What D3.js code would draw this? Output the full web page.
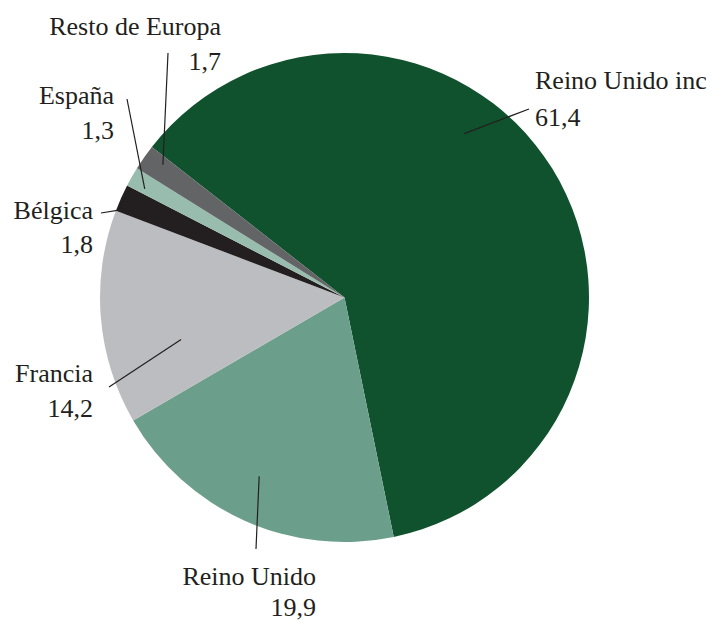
<!DOCTYPE html>
<meta charset="utf-8" />
<html lang="es">
  <head>
    <script src="https://d3js.org/d3.v7.min.js"></script>
    <style>
      body {
        margin: 0;
        background: #fff;
      }
      svg text {
        font-family: "Liberation Serif", "Times New Roman", serif;
        font-size: 26px;
        fill: #231f20;
      }
      .leaders line {
        stroke: #231f20;
        stroke-width: 1.2px;
      }
    </style>
  </head>
  <body>
    <svg width="713" height="622"></svg>
    <script>
      // data, clockwise from the top-left
      var categories = ["Reino Unido inc", "Reino Unido", "Francia", "Bélgica", "España", "Resto de Europa"];
      var values = [61.4, 19.9, 14.2, 1.8, 1.3, 1.7];
      var valueLabels = ["61,4", "19,9", "14,2", "1,8", "1,3", "1,7"];
      var colors = ["#10522e", "#6c9f8b", "#bcbdc0", "#231f20", "#98bdaf", "#636466"];

      var svg = d3.select("svg"),
        width = +svg.attr("width"),
        height = +svg.attr("height");

      var cx = 344.5,
        cy = 297.5,
        radius = 244.5;

      var start = (-52 * Math.PI) / 180;

      var pie = d3
        .pie()
        .sort(null)
        .value(function(d) {
          return d.value;
        })
        .startAngle(start)
        .endAngle(start + 2 * Math.PI);

      var arc = d3
        .arc()
        .innerRadius(0)
        .outerRadius(radius);

      var rows = categories.map(function(c, i) {
        return { name: c, value: values[i], label: valueLabels[i], color: colors[i] };
      });
      var arcs = pie(rows);

      var g = svg.append("g").attr("transform", "translate(" + cx + "," + cy + ")");

      g.selectAll("path")
        .data(arcs)
        .enter()
        .append("path")
        .attr("d", arc)
        .attr("fill", function(d) {
          return d.data.color;
        });

      // label layout: where the leader sits inside the slice (t along slice, r fraction),
      // where it ends outside, and where the two text lines go
      var layout = [
        { t: 0.4, rf: 0.83, end: [529, 109], x: 535, y: 89, anchor: "start", gap: 37 },
        { t: 0.52, rf: 0.81, end: [256, 549], x: 316, y: 585, anchor: "end", gap: 31 },
        { t: 0.31, rf: 0.69, end: [109, 387], x: 93, y: 382, anchor: "end", gap: 35 },
        { t: 0.06, rf: 0.99, end: [101, 213], x: 93, y: 219, anchor: "end", gap: 34 },
        { t: 0.28, rf: 0.93, end: [127, 99], x: 114, y: 104, anchor: "end", gap: 35 },
        { t: 0.7, rf: 0.92, end: [168, 53], x: 221, y: 35, anchor: "end", gap: 35 }
      ];

      function inner(d, i) {
        var a = d.startAngle + (d.endAngle - d.startAngle) * layout[i].t;
        var r = radius * layout[i].rf;
        return [cx + Math.sin(a) * r, cy - Math.cos(a) * r];
      }

      svg
        .append("g")
        .attr("class", "leaders")
        .selectAll("line")
        .data(arcs)
        .enter()
        .append("line")
        .attr("x1", function(d, i) {
          return inner(d, i)[0];
        })
        .attr("y1", function(d, i) {
          return inner(d, i)[1];
        })
        .attr("x2", function(d, i) {
          return layout[i].end[0];
        })
        .attr("y2", function(d, i) {
          return layout[i].end[1];
        });

      var labels = svg
        .append("g")
        .selectAll("g")
        .data(arcs)
        .enter()
        .append("g");

      labels
        .append("text")
        .attr("x", function(d, i) {
          return layout[i].x;
        })
        .attr("y", function(d, i) {
          return layout[i].y;
        })
        .attr("text-anchor", function(d, i) {
          return layout[i].anchor;
        })
        .text(function(d) {
          return d.data.name;
        });

      labels
        .append("text")
        .attr("x", function(d, i) {
          return layout[i].x;
        })
        .attr("y", function(d, i) {
          return layout[i].y + layout[i].gap;
        })
        .attr("text-anchor", function(d, i) {
          return layout[i].anchor;
        })
        .text(function(d) {
          return d.data.label;
        });
    </script>
  </body>
</html>
